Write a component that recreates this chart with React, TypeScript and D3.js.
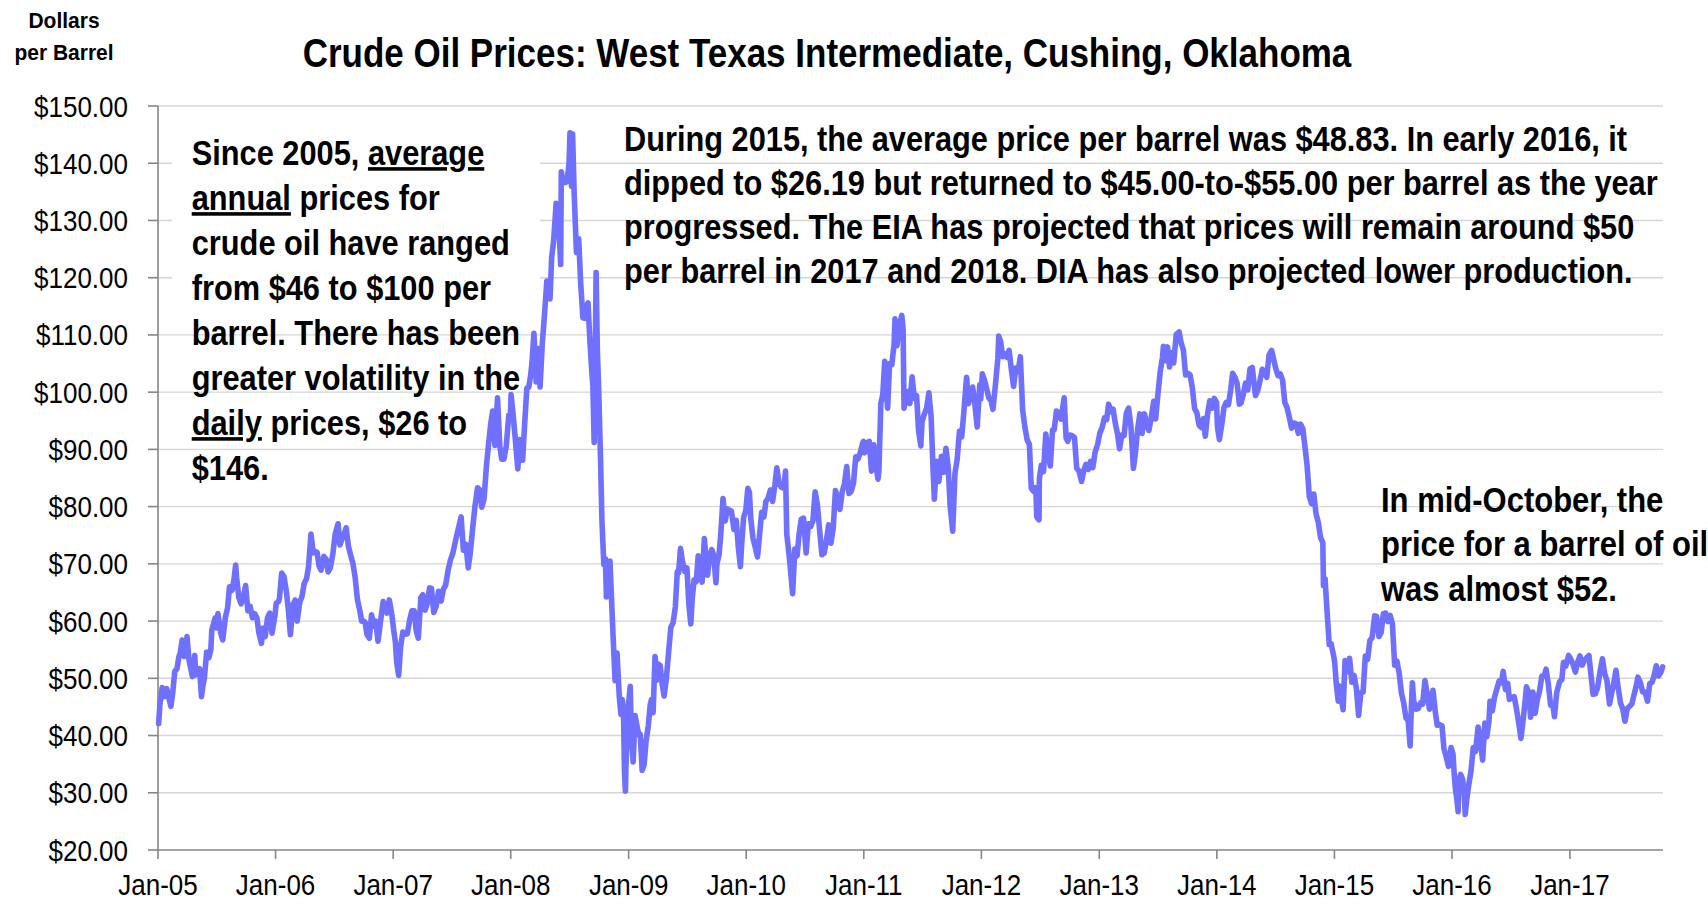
import React from 'react';
import * as d3 from 'd3';

const W = 1708;
const H = 904;

const titleText = 'Crude Oil Prices: West Texas Intermediate, Cushing, Oklahoma';
const yAxisTitle = ['Dollars', 'per Barrel'];
const yTickValues = [20, 30, 40, 50, 60, 70, 80, 90, 100, 110, 120, 130, 140, 150];
const xTickYears = [2005, 2006, 2007, 2008, 2009, 2010, 2011, 2012, 2013, 2014, 2015, 2016, 2017];
const monthAbbr = 'Jan';

type P = [string, number];

const p2005: P[] = [["01-03",42.1],["01-07",45.4],["01-14",48.4],["01-21",46.8],["01-28",48.2],["02-04",46.5],["02-10",45.1],["02-16",47.6],["02-22",51.2],["03-01",51.7],["03-07",53.8],["03-11",54.4],["03-17",56.7],["03-23",53.8],["03-28",54.0],["04-01",57.3],["04-07",53.3],["04-12",51.9],["04-18",50.3],["04-25",54.0],["04-28",50.6],["05-05",50.9],["05-10",51.7],["05-16",46.8],["05-20",48.6],["05-25",50.0],["06-01",54.6],["06-08",53.6],["06-14",55.0],["06-17",58.4],["06-27",60.5],["07-01",58.8],["07-06",61.3],["07-15",57.8],["07-21",56.7],["07-29",60.6],["08-05",62.3],["08-11",66.0],["08-19",65.4],["08-25",67.3],["08-30",69.8],["09-02",67.6],["09-09",64.1],["09-16",63.0],["09-23",64.2],["09-30",66.2],["10-07",61.8],["10-14",62.6],["10-21",60.6],["10-28",61.3],["11-04",60.6],["11-10",58.0],["11-18",56.1],["11-23",58.8],["11-30",57.3],["12-07",60.6],["12-14",61.4],["12-21",57.9],["12-30",61.0]];
const p2006: P[] = [["01-03",63.1],["01-10",63.4],["01-13",64.0],["01-20",68.4],["01-27",67.8],["02-03",65.4],["02-10",61.8],["02-16",57.6],["02-24",62.9],["03-03",63.7],["03-09",60.0],["03-17",63.3],["03-24",64.3],["03-31",66.6],["04-07",67.4],["04-13",69.3],["04-21",75.2],["04-28",71.9],["05-03",72.2],["05-10",72.0],["05-16",69.6],["05-22",68.9],["05-31",71.3],["06-07",70.8],["06-13",68.6],["06-20",69.3],["06-28",71.8],["07-05",75.2],["07-14",77.0],["07-20",73.3],["07-27",74.5],["08-03",75.4],["08-08",76.3],["08-15",73.1],["08-22",71.5],["08-29",70.1],["09-05",67.6],["09-12",63.8],["09-20",61.7],["09-25",60.0],["10-02",60.0],["10-06",59.8],["10-12",57.6],["10-19",57.0],["10-26",61.1],["11-02",59.1],["11-08",60.0],["11-15",56.5],["11-22",59.6],["12-01",63.4],["12-07",62.5],["12-13",61.4],["12-20",63.7],["12-28",61.1]];
const p2007: P[] = [["01-03",58.3],["01-08",56.3],["01-12",52.8],["01-18",50.5],["01-24",55.4],["01-31",58.1],["02-07",57.7],["02-14",57.8],["02-21",60.1],["02-28",61.8],["03-07",61.8],["03-14",58.2],["03-20",57.0],["03-28",64.1],["04-03",64.6],["04-10",61.9],["04-17",63.1],["04-24",65.8],["04-30",65.7],["05-07",61.5],["05-14",62.5],["05-22",65.2],["05-30",63.5],["06-06",65.6],["06-13",66.3],["06-21",69.0],["06-28",70.7],["07-05",71.8],["07-13",73.9],["07-20",75.6],["07-31",78.2],["08-07",72.4],["08-15",73.4],["08-22",69.3],["08-28",71.7],["09-05",76.3],["09-12",80.1],["09-20",83.3],["09-27",82.9],["10-03",79.9],["10-10",81.3],["10-18",87.4],["10-26",91.9],["10-31",94.5],["11-06",96.7],["11-13",90.7],["11-21",99.0],["11-28",90.6],["12-04",88.3],["12-11",88.3],["12-18",90.5],["12-26",96.0],["12-31",95.9]];
const p2008: P[] = [["01-02",99.6],["01-08",96.3],["01-15",91.9],["01-23",86.6],["01-29",91.7],["02-07",88.1],["02-12",93.3],["02-20",100.7],["02-26",100.9],["03-03",103.0],["03-07",105.2],["03-13",110.3],["03-20",101.8],["03-27",107.6],["04-01",100.9],["04-08",108.5],["04-15",113.7],["04-22",119.4],["04-28",118.8],["05-02",116.3],["05-07",123.5],["05-13",126.3],["05-21",133.0],["05-28",131.0],["06-04",122.3],["06-06",138.5],["06-12",136.7],["06-18",136.6],["06-24",136.8],["06-30",140.0],["07-03",145.3],["07-08",136.0],["07-11",145.1],["07-16",134.6],["07-23",124.4],["07-30",126.8],["08-05",119.2],["08-12",113.0],["08-18",112.9],["08-22",114.6],["08-28",115.6],["09-02",109.7],["09-09",103.3],["09-12",101.2],["09-16",91.2],["09-19",104.6],["09-22",120.9],["09-26",106.9],["09-30",100.6],["10-06",87.8],["10-10",77.7],["10-16",69.9],["10-21",70.9],["10-24",64.2],["10-30",67.9],["11-04",70.5],["11-10",62.4],["11-14",57.0],["11-20",49.6],["11-26",54.4],["12-03",46.8],["12-08",43.7],["12-12",46.3],["12-16",44.6],["12-19",33.9],["12-22",30.3],["12-24",35.4],["12-31",44.6]];
const p2009: P[] = [["01-02",46.3],["01-06",48.6],["01-09",40.8],["01-15",35.4],["01-21",43.5],["01-27",41.6],["02-02",40.1],["02-06",40.2],["02-12",33.9],["02-18",34.9],["02-24",39.0],["03-03",41.7],["03-09",45.4],["03-13",46.3],["03-18",44.0],["03-24",53.8],["03-31",49.7],["04-03",52.5],["04-09",52.2],["04-14",49.4],["04-21",46.9],["04-28",49.9],["05-05",54.5],["05-12",58.9],["05-19",59.7],["05-26",62.5],["06-01",68.6],["06-05",68.4],["06-11",72.7],["06-17",70.5],["06-24",68.7],["07-01",69.3],["07-07",62.9],["07-13",59.5],["07-17",63.6],["07-23",67.2],["07-30",66.9],["08-05",71.4],["08-11",70.0],["08-17",66.8],["08-24",74.4],["08-31",69.9],["09-03",68.0],["09-09",71.3],["09-16",72.5],["09-22",71.6],["09-29",66.7],["10-02",69.9],["10-09",71.7],["10-14",75.2],["10-21",81.4],["10-28",77.5],["11-03",79.6],["11-09",79.4],["11-16",79.2],["11-24",76.0],["12-01",77.6],["12-08",72.6],["12-14",69.5],["12-18",73.4],["12-24",78.1],["12-31",79.4]];
const p2010: P[] = [["01-06",83.2],["01-11",82.5],["01-15",78.0],["01-22",74.5],["01-29",72.9],["02-05",71.2],["02-11",74.8],["02-18",79.0],["02-25",78.2],["03-03",80.9],["03-10",81.5],["03-17",82.9],["03-24",80.9],["03-31",83.8],["04-06",86.8],["04-13",84.1],["04-20",83.4],["04-28",83.2],["05-03",86.2],["05-07",75.1],["05-14",71.6],["05-20",68.0],["05-25",64.8],["06-01",72.6],["06-08",71.4],["06-14",75.1],["06-21",77.8],["06-28",78.0],["07-06",71.9],["07-13",77.0],["07-20",76.5],["07-27",77.5],["08-03",82.6],["08-10",80.3],["08-17",75.8],["08-24",71.6],["08-31",71.9],["09-07",74.1],["09-14",76.8],["09-21",73.6],["09-28",76.2],["10-05",82.8],["10-12",81.7],["10-19",79.5],["10-26",82.6],["11-02",84.0],["11-09",87.0],["11-16",82.3],["11-23",82.7],["11-30",84.1],["12-07",88.7],["12-14",88.3],["12-21",89.4],["12-28",91.0],["12-31",91.4]];
const p2011: P[] = [["01-04",89.4],["01-10",91.1],["01-18",91.4],["01-25",86.2],["02-01",90.8],["02-07",87.5],["02-14",84.8],["02-17",86.3],["02-23",98.1],["03-01",99.6],["03-07",105.4],["03-11",101.2],["03-16",97.2],["03-22",105.0],["03-29",104.8],["04-05",108.3],["04-08",112.8],["04-14",108.1],["04-21",111.5],["04-29",113.4],["05-03",111.1],["05-06",97.2],["05-12",98.9],["05-18",100.1],["05-24",98.0],["05-31",102.7],["06-07",98.9],["06-14",99.4],["06-20",93.3],["06-27",90.6],["07-01",94.9],["07-08",96.2],["07-15",97.2],["07-22",99.9],["07-29",95.7],["08-04",86.6],["08-08",81.3],["08-15",87.9],["08-22",84.4],["08-30",88.8],["09-06",86.0],["09-13",90.2],["09-20",86.9],["09-26",80.2],["10-04",75.7],["10-11",85.8],["10-18",88.3],["10-25",93.2],["11-01",92.2],["11-08",96.8],["11-16",102.6],["11-22",98.0],["11-29",99.8],["12-05",100.9],["12-12",97.8],["12-19",93.9],["12-27",101.3],["12-30",98.8]];
const p2012: P[] = [["01-04",103.2],["01-10",102.2],["01-17",100.7],["01-24",99.0],["01-31",98.5],["02-06",97.0],["02-13",100.9],["02-21",105.8],["02-24",109.8],["03-01",108.8],["03-07",106.2],["03-13",106.7],["03-20",106.1],["03-27",107.3],["04-03",104.0],["04-10",101.0],["04-17",104.2],["04-24",103.6],["05-01",106.2],["05-08",97.0],["05-15",93.9],["05-22",91.7],["05-29",90.9],["06-04",83.2],["06-11",82.7],["06-18",83.3],["06-21",78.2],["06-28",77.7],["06-29",84.9],["07-05",87.2],["07-12",86.1],["07-19",92.7],["07-26",89.4],["08-02",87.1],["08-09",93.4],["08-14",93.4],["08-21",96.7],["08-28",96.3],["09-04",95.3],["09-14",99.0],["09-20",92.0],["09-25",91.4],["10-02",92.5],["10-09",92.4],["10-16",92.1],["10-23",86.7],["10-30",86.2],["11-07",84.4],["11-14",86.3],["11-21",87.4],["11-28",86.5],["12-05",87.9],["12-12",86.8],["12-19",89.5],["12-27",90.9]];
const p2013: P[] = [["01-03",92.9],["01-10",93.8],["01-17",95.5],["01-24",95.2],["01-30",97.9],["02-06",96.6],["02-13",97.0],["02-20",94.5],["02-27",92.6],["03-05",90.1],["03-12",92.5],["03-19",92.4],["03-26",96.3],["04-02",97.2],["04-09",94.2],["04-17",86.7],["04-23",89.2],["04-30",93.5],["05-07",96.2],["05-14",92.8],["05-21",96.2],["05-28",94.7],["06-04",93.3],["06-11",95.4],["06-19",98.4],["06-25",95.3],["07-02",99.6],["07-09",103.5],["07-16",106.0],["07-19",108.0],["07-25",105.5],["08-01",107.9],["08-07",104.4],["08-14",106.9],["08-20",105.1],["08-28",110.1],["09-06",110.5],["09-12",108.6],["09-19",107.4],["09-26",103.0],["10-03",103.3],["10-10",103.0],["10-17",100.7],["10-24",97.1],["10-31",96.4],["11-07",94.2],["11-14",93.8],["11-21",95.4],["11-26",92.3],["12-03",96.0],["12-10",98.5],["12-17",97.2],["12-24",98.9],["12-31",98.2]];
const p2014: P[] = [["01-03",93.9],["01-09",91.7],["01-16",94.2],["01-23",97.3],["01-30",98.2],["02-06",97.8],["02-13",100.4],["02-19",103.3],["02-26",102.6],["03-05",101.5],["03-12",97.9],["03-17",98.1],["03-24",99.6],["03-31",101.6],["04-07",100.4],["04-14",104.1],["04-21",104.3],["04-28",100.8],["05-01",99.4],["05-08",100.3],["05-15",102.0],["05-22",104.0],["05-29",103.6],["06-05",102.6],["06-12",106.5],["06-20",107.3],["06-26",105.8],["07-03",104.1],["07-10",102.9],["07-17",103.2],["07-24",102.1],["07-31",98.2],["08-07",97.3],["08-14",95.6],["08-21",93.7],["08-28",94.6],["09-04",94.5],["09-11",92.8],["09-18",94.4],["09-25",93.6],["10-01",90.7],["10-08",87.3],["10-15",81.8],["10-22",80.5],["10-29",82.2],["11-05",78.7],["11-12",77.2],["11-19",74.6],["11-26",73.7],["11-28",66.2],["12-03",67.4],["12-10",60.9],["12-16",55.9],["12-22",56.0],["12-31",53.5]];
const p2015: P[] = [["01-02",52.7],["01-07",48.8],["01-13",46.0],["01-16",48.7],["01-23",46.3],["01-28",44.5],["02-03",53.1],["02-06",51.7],["02-12",51.2],["02-17",53.5],["02-24",49.3],["03-03",50.5],["03-10",48.3],["03-17",43.5],["03-24",47.5],["03-31",47.6],["04-07",53.9],["04-14",53.3],["04-21",56.6],["04-28",57.1],["05-06",60.9],["05-12",60.8],["05-19",57.3],["05-26",58.0],["06-02",61.3],["06-09",61.4],["06-16",59.9],["06-23",61.0],["06-30",59.5],["07-07",52.3],["07-14",53.0],["07-21",50.9],["07-28",47.4],["08-04",45.7],["08-11",43.1],["08-18",42.6],["08-24",38.2],["08-28",45.2],["08-31",49.2],["09-04",46.1],["09-11",44.6],["09-18",44.7],["09-25",45.7],["10-02",45.5],["10-09",49.6],["10-16",47.3],["10-23",44.6],["10-30",46.6],["11-03",47.9],["11-10",44.2],["11-16",41.8],["11-24",41.9],["12-01",41.7],["12-07",37.7],["12-14",36.3],["12-21",34.6],["12-29",37.9]];
const p2016: P[] = [["01-04",36.8],["01-08",33.2],["01-12",30.4],["01-15",29.4],["01-20",26.7],["01-22",32.2],["01-28",33.2],["02-03",32.3],["02-08",29.7],["02-11",26.2],["02-16",29.0],["02-22",31.4],["02-29",33.8],["03-07",37.9],["03-14",37.2],["03-22",41.5],["03-28",39.4],["04-05",35.7],["04-12",42.2],["04-18",39.8],["04-25",42.6],["04-28",46.0],["05-05",44.3],["05-12",46.7],["05-19",48.1],["05-26",49.5],["06-02",49.2],["06-08",51.2],["06-15",48.0],["06-22",49.1],["06-27",46.3],["07-05",46.6],["07-12",46.8],["07-19",44.7],["07-27",41.9],["08-02",39.5],["08-09",42.8],["08-16",46.6],["08-19",48.5],["08-26",47.6],["09-01",43.2],["09-08",47.6],["09-15",43.9],["09-22",46.3],["09-29",47.8],["10-06",50.4],["10-13",50.4],["10-19",51.6],["10-26",49.0],["11-02",45.3],["11-09",45.3],["11-14",43.3],["11-21",47.5],["11-30",49.4],["12-07",49.8],["12-12",52.8],["12-19",52.1],["12-28",54.0]];
const p2017: P[] = [["01-04",53.3],["01-11",52.4],["01-18",51.1],["01-25",52.8],["02-01",53.9],["02-08",52.3],["02-15",53.1],["02-22",53.6],["03-01",54.0],["03-08",50.3],["03-14",47.2],["03-21",47.3],["03-28",48.4],["04-04",51.0],["04-12",53.4],["04-19",50.8],["04-26",49.6],["05-04",45.5],["05-10",47.3],["05-17",49.1],["05-24",51.4],["05-31",48.3],["06-07",45.7],["06-14",44.7],["06-21",42.5],["06-28",44.7],["07-05",45.1],["07-12",45.5],["07-19",47.1],["07-26",48.7],["07-31",50.2],["08-08",49.2],["08-15",47.6],["08-22",47.6],["08-30",46.0],["09-06",49.1],["09-13",49.3],["09-20",50.6],["09-26",52.2],["10-03",50.4],["10-10",51.0],["10-16",52.0]];

const priceYears: [number, P[]][] = [
  [2005, p2005], [2006, p2006], [2007, p2007], [2008, p2008], [2009, p2009], [2010, p2010],
  [2011, p2011], [2012, p2012], [2013, p2013], [2014, p2014], [2015, p2015], [2016, p2016], [2017, p2017],
];

type Seg = { t: string; u?: boolean };
const note1: Seg[][] = [
  [{ t: 'Since 2005, ' }, { t: 'average', u: true }],
  [{ t: 'annual', u: true }, { t: ' prices for' }],
  [{ t: 'crude oil have ranged' }],
  [{ t: 'from $46 to $100 per' }],
  [{ t: 'barrel. There has been' }],
  [{ t: 'greater volatility in the' }],
  [{ t: 'daily', u: true }, { t: ' prices, $26 to' }],
  [{ t: '$146.' }],
];
const note2: string[] = [
  'During 2015, the average price per barrel was $48.83. In early 2016, it',
  'dipped to $26.19 but returned to $45.00-to-$55.00 per barrel as the year',
  'progressed. The EIA has projected that prices will remain around $50',
  'per barrel in 2017 and 2018. DIA has also projected lower production.',
];
const note3: string[] = ['In mid-October, the', 'price for a barrel of oil', 'was almost $52.'];

const FONT = '"Liberation Sans", Arial, Helvetica, sans-serif';
const K = 1.15;

type TProps = {
  x: number;
  y: number;
  size: number;
  k?: number;
  sx?: number;
  anchor?: 'start' | 'middle' | 'end';
  bold?: boolean;
  children: React.ReactNode;
};
function CText({ x, y, size, k = K, sx = 1, anchor = 'start', bold = false, children }: TProps) {
  return (
    <text
      transform={`translate(${x},${y}) scale(${sx / k},1)`}
      fontSize={size * k}
      textAnchor={anchor}
      fontWeight={bold ? 'bold' : 'normal'}
      fill="#000"
    >
      {children}
    </text>
  );
}

export default function App() {
  const data = priceYears.flatMap(([yr, arr]) =>
    arr.map(([md, v]) => ({ date: new Date(`${yr}-${md}T00:00:00`), v }))
  );

  const x = d3.scaleTime().domain([new Date(2005, 0, 1), new Date(2017, 9, 17)]).range([158, 1663]);
  const y = d3.scaleLinear().domain([20, 150]).range([850, 106]);

  const lineGen = d3
    .line<{ date: Date; v: number }>()
    .x((d) => x(d.date))
    .y((d) => y(d.v));
  const path = lineGen(data) || '';

  const xTicks = xTickYears.map((yr) => new Date(yr, 0, 1));
  const fmtMoney = (v: number) => '$' + d3.format('.2f')(v);

  return (
    <div style={{ position: 'absolute', left: 0, top: 0 }}>
      <svg width={W} height={H} style={{ display: 'block', background: '#fff' }} fontFamily={FONT}>
        <rect x={0} y={0} width={W} height={H} fill="#fff" />
        {yTickValues.filter((v) => v > 20).map((v) => (
          <line key={'g' + v} x1={x.range()[0]} x2={x.range()[1]} y1={y(v)} y2={y(v)} stroke="#d6d6d6" strokeWidth={1.4} />
        ))}
        <rect x={172} y={120} width={368} height={185} fill="#fff" />
        <line x1={158} x2={158} y1={y(150)} y2={y(20)} stroke="#868686" strokeWidth={1.6} />
        <line x1={158} x2={1663} y1={y(20)} y2={y(20)} stroke="#868686" strokeWidth={1.6} />
        {yTickValues.map((v) => (
          <g key={'yt' + v}>
            <line x1={148} x2={158} y1={y(v)} y2={y(v)} stroke="#868686" strokeWidth={1.6} />
            <CText x={128} y={y(v) + 10.5} size={26} anchor="end">
              {fmtMoney(v)}
            </CText>
          </g>
        ))}
        {xTicks.map((d, i) => (
          <g key={'xt' + i}>
            <line x1={x(d)} x2={x(d)} y1={850} y2={859} stroke="#868686" strokeWidth={1.6} />
            <CText x={x(d)} y={895} size={26} anchor="middle">
              {monthAbbr + '-' + d3.timeFormat('%y')(d)}
            </CText>
          </g>
        ))}
        <path d={path} fill="none" stroke="#7070ff" strokeWidth={5.6} strokeLinejoin="round" strokeLinecap="round" />
        <CText x={827} y={67} size={35} anchor="middle" bold>
          {titleText}
        </CText>
        {yAxisTitle.map((t, i) => (
          <CText key={'ya' + i} x={64} y={27.5 + i * 32} size={21} k={1.08} anchor="middle" bold>
            {t}
          </CText>
        ))}
        {note1.map((segs, i) => (
          <CText key={'n1' + i} x={191.7} y={165 + i * 45} size={31} sx={0.993} bold>
            {segs.map((s, j) => (
              <tspan key={j} style={s.u ? { textDecoration: 'underline' } : undefined}>
                {s.t}
              </tspan>
            ))}
          </CText>
        ))}
        {note2.map((t, i) => (
          <CText key={'n2' + i} x={624} y={150.5 + i * 44.3} size={31} sx={0.992} bold>
            {t}
          </CText>
        ))}
        {note3.map((t, i) => (
          <CText key={'n3' + i} x={1381} y={511.5 + i * 44.5} size={31} bold>
            {t}
          </CText>
        ))}
      </svg>
    </div>
  );
}
